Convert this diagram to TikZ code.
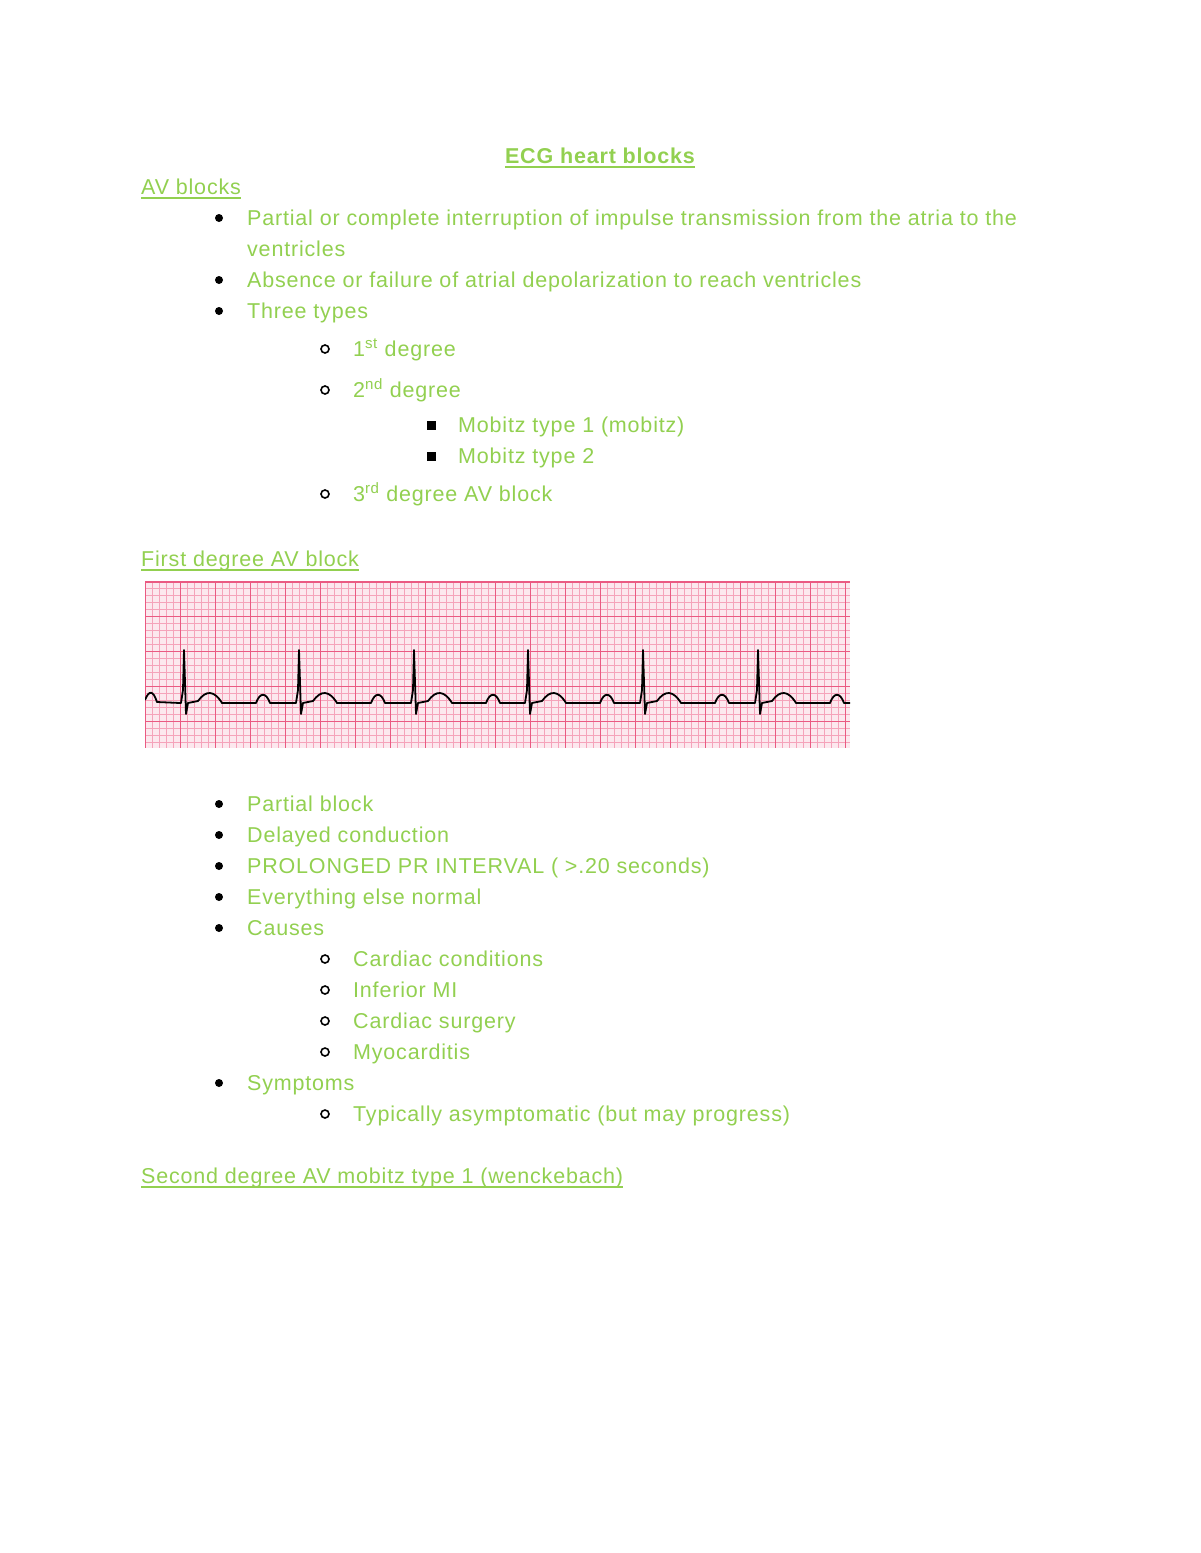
\documentclass[tikz,border=0pt]{standalone}
\usepackage{fontspec}
\setmainfont{Liberation Sans}[LetterSpace=3.8]
\begin{document}
\begin{tikzpicture}[x=1pt,y=-1pt,
  txt/.style={anchor=base west,inner sep=0,text=G,font=\fontsize{21.5}{26}\selectfont},
  bul/.style={circle,fill=black,inner sep=0,minimum size=8pt},
  obul/.style={circle,draw=black,line width=1.6pt,inner sep=0,minimum size=8pt},
  sbul/.style={rectangle,fill=black,inner sep=0,minimum size=9pt}]
\definecolor{G}{HTML}{92D050}
\definecolor{pk}{HTML}{F5A3BA}
\definecolor{pkd}{HTML}{EA5A82}
\useasboundingbox (0,0) rectangle (1200,1553);
\fill[white] (0,0) rectangle (1200,1553);
% title
\node[txt,anchor=base,font=\bfseries\fontsize{21.5}{26}\selectfont] (title) at (600,163) {ECG heart blocks};
\draw[G,line width=1.5pt] ([yshift=-4pt]title.base west) -- ([yshift=-4pt]title.base east);
\newcommand{\ul}[3]{\node[txt] (#1) at (141,#2) {#3}; \draw[G,line width=1.3pt] ([yshift=-4pt]#1.base west) -- ([yshift=-4pt]#1.base east);}
\ul{h1}{194}{AV blocks}
\newcommand{\bi}[3]{\node[bul] (b#1) at (219,#2-7) {}; \node[txt] (t#1) at (247,#2) {#3};}
\newcommand{\oi}[3]{\node[obul] (b#1) at (325,#2-7) {}; \node[txt] (t#1) at (353,#2) {#3};}
\newcommand{\si}[3]{\node[sbul] (b#1) at (431,#2-7) {}; \node[txt] (t#1) at (458,#2) {#3};}
\bi{a}{225}{Partial or complete interruption of impulse transmission from the atria to the}
\node[txt] (ta2) at (247,256) {ventricles};
\bi{b}{287}{Absence or failure of atrial depolarization to reach ventricles}
\bi{c}{318}{Three types}
\oi{d}{356}{1\textsuperscript{st} degree}
\oi{e}{397}{2\textsuperscript{nd} degree}
\si{f}{432}{Mobitz type 1 (mobitz)}
\si{g}{463}{Mobitz type 2}
\oi{h}{501}{3\textsuperscript{rd} degree AV block}
\ul{h2}{566}{First degree AV block}
% ECG strip
\begin{scope}
\clip (145,581) rectangle (850,748);
\fill[pk!25] (145,581) rectangle (850,748);
\foreach \x in {145,152,...,850} \draw[pk,line width=0.7pt] (\x,581) -- (\x,748);
\foreach \y in {581,588,...,748} \draw[pk,line width=0.7pt] (145,\y) -- (850,\y);
\foreach \x in {145,180,...,850} \draw[pkd,line width=1pt] (\x,581) -- (\x,748);
\foreach \y in {581,616,...,748} \draw[pkd,line width=1pt] (145,\y) -- (850,\y);
\draw[pkd,line width=1.5pt] (145,582) -- (850,582);
\draw[black,line width=1.8pt,line join=round]
  (145,700) .. controls (149,690) and (153,690) .. (157,702) -- (180,703)
  \foreach \r in {184,299,414,528,643,758} {
   -- (\r-3,703) -- (\r-1,690) -- (\r,650) -- (\r+2,714) -- (\r+4,703)
   -- (\r+14,701) .. controls (\r+22,690) and (\r+30,690) .. (\r+38,703) -- (\r+72,703)
   .. controls (\r+76,692) and (\r+82,692) .. (\r+86,703) -- (\r+111,703)};
\end{scope}
\bi{i}{811}{Partial block}
\bi{j}{842}{Delayed conduction}
\bi{k}{873}{PROLONGED PR INTERVAL ( >.20 seconds)}
\bi{l}{904}{Everything else normal}
\bi{m}{935}{Causes}
\oi{n}{966}{Cardiac conditions}
\oi{o}{997}{Inferior MI}
\oi{p}{1028}{Cardiac surgery}
\oi{q}{1059}{Myocarditis}
\bi{r}{1090}{Symptoms}
\oi{s}{1121}{Typically asymptomatic (but may progress)}
\ul{h3}{1183}{Second degree AV mobitz type 1 (wenckebach)}
\end{tikzpicture}
\end{document}
